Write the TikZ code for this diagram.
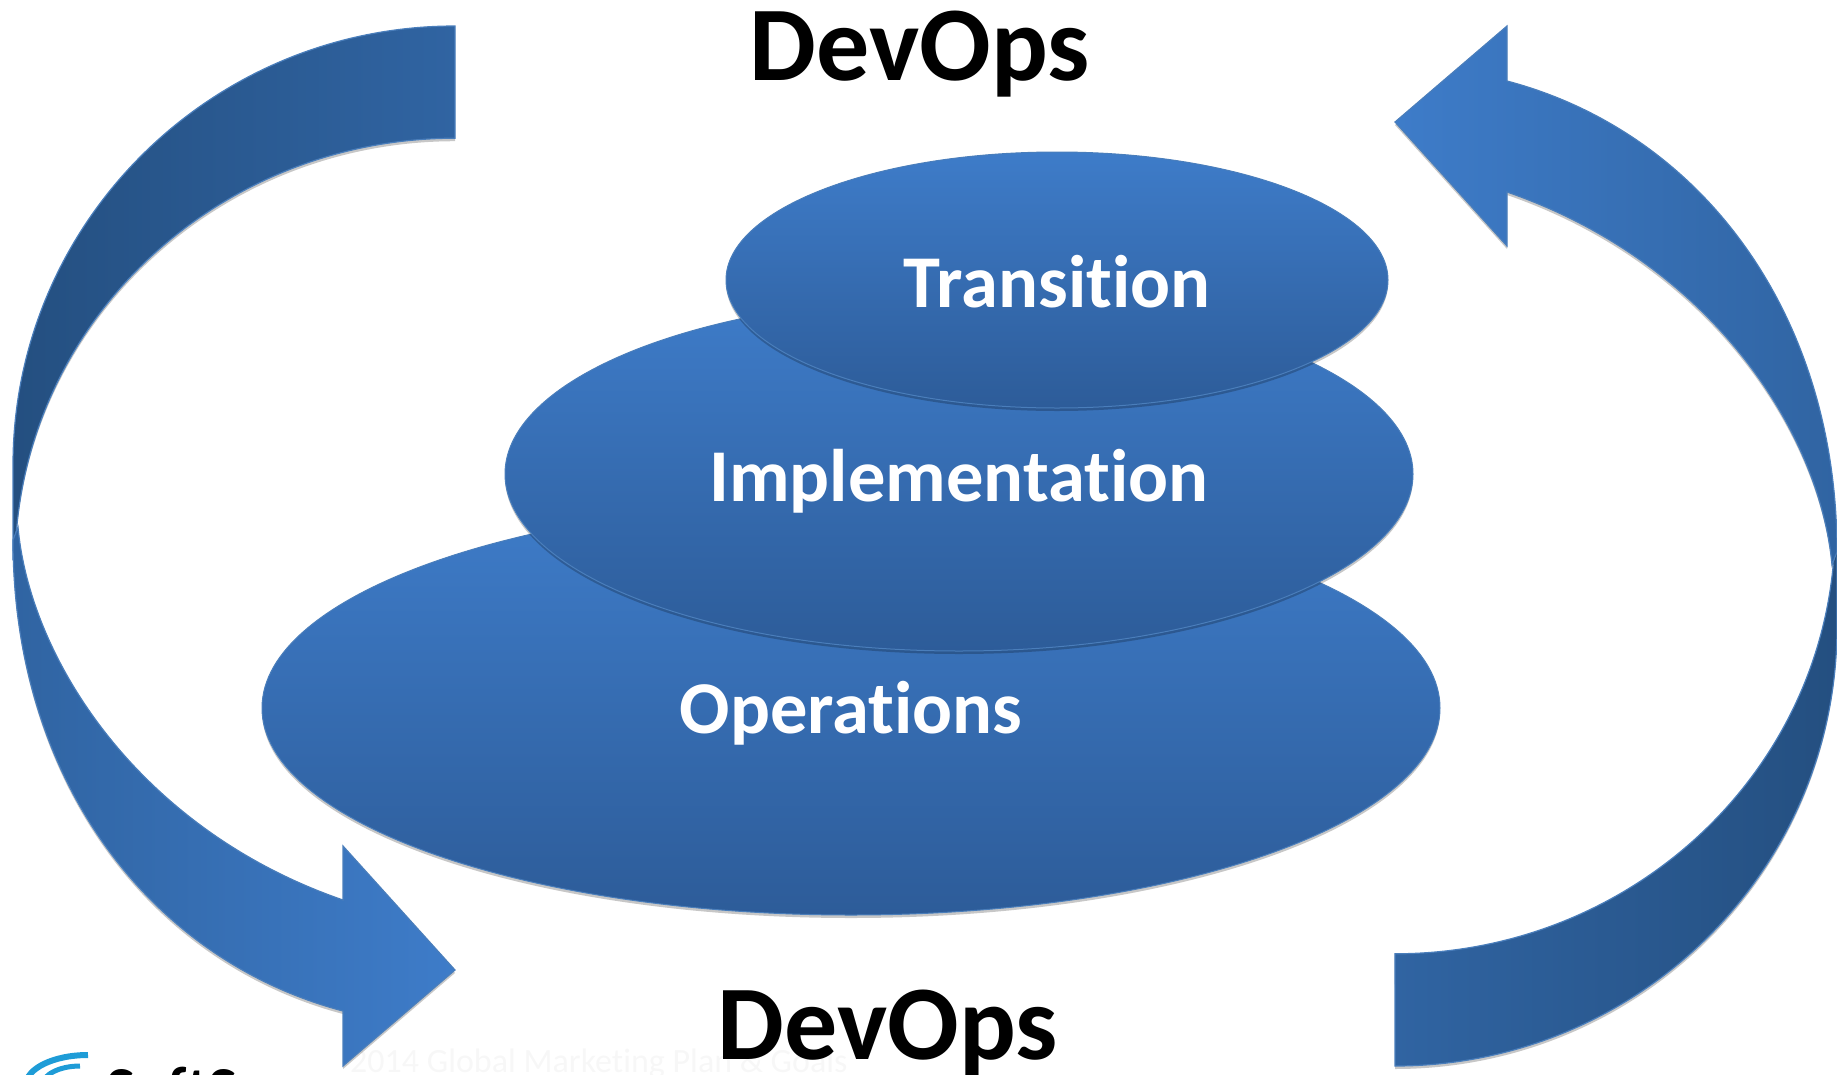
\documentclass[tikz,border=0pt]{standalone}
\usepackage{fontspec}
\setmainfont{Carlito}[Ligatures=NoCommon]
\usetikzlibrary{shapes.geometric,shadows}

\definecolor{lightblue}{HTML}{3E7CC9}
\definecolor{midblue}{HTML}{3064A2}
\definecolor{lowblue}{HTML}{2D5C99}
\definecolor{darkblue}{HTML}{244F80}
\definecolor{edgeblue}{HTML}{4A7EBB}
\definecolor{logoblue}{HTML}{1E9CD7}

\tikzset{
  softshadow/.style={drop shadow={shadow xshift=0pt,shadow yshift=-3pt,opacity=.22,fill=black}},
  disc/.style={ellipse,draw=edgeblue,line width=1pt,inner sep=0pt,top color=lightblue,bottom color=lowblue,
    softshadow,text=white,text height=54pt,text depth=0pt,font=\bfseries\fontsize{74.5}{76}\selectfont},
  band/.style={draw=edgeblue,line width=1.2pt,line join=miter,softshadow},
  title/.style={font=\bfseries\fontsize{106}{106}\selectfont,text=black,inner sep=0pt}
}

\begin{document}
\begin{tikzpicture}[x=1pt,y=-1pt]
\useasboundingbox (0,0) rectangle (1837,1074);
\clip (0,0) rectangle (1837,1074);
% footer, nearly white and under the arrow
\node [anchor=west,inner sep=0pt,text=black!3,font=\fontsize{34}{34}\selectfont] (footer) at (350,1064) {2014 Global Marketing Plan \& Goals};
% left arrow
\draw [band,left color=darkblue,right color=midblue] (455,26) arc[start angle=270,end angle=180,x radius=442,y radius=439] -- (13,560) -- (16.7,528) arc[start angle=185,end angle=270,x radius=440,y radius=427] -- cycle;
\draw [band,left color=midblue,right color=lightblue] (13,540) .. controls (13,780) and (150,960) .. (343,1011) -- (343,1066) -- (455,970) -- (343,846) -- (343,900) .. controls (140,830) and (30,660) .. (18,527) -- cycle;
% right arrow
\draw [band,right color=darkblue,left color=midblue] (1395,1066) arc[start angle=90,end angle=0,x radius=442,y radius=439] -- (1837,532) -- (1833.3,564) arc[start angle=5,end angle=90,x radius=440,y radius=427] -- cycle;
\draw [band,right color=midblue,left color=lightblue] (1837,552) .. controls (1837,312) and (1700,132) .. (1507,81) -- (1507,26) -- (1395,122) -- (1507,246) -- (1507,192) .. controls (1710,262) and (1820,432) .. (1832,565) -- cycle;
% stacked discs
\node [disc,text height=50pt,minimum width=1178pt,minimum height=414pt] (operations) at (851,708) {Operations};
\node [disc,minimum width=908pt,minimum height=354pt] (implementation) at (959,474) {Implementation};
\node [disc,minimum width=662pt,minimum height=256pt] (transition) at (1057,280) {Transition};
% titles
\node [title] (devopstop) at (920,54) {DevOps};
\node [title] (devopsbottom) at (888,1033) {DevOps};
% logo, cut off by the page edge
\draw [logoblue,line width=6pt] (26,1085) arc[start angle=180,end angle=270,x radius=62,y radius=30];
\draw [logoblue,line width=5pt] (42,1086) arc[start angle=180,end angle=270,x radius=38,y radius=20];
\node [anchor=north west,inner sep=0pt,font=\bfseries\fontsize{61}{61}\selectfont] (logotext) at (106,1067) {SoftS};
\end{tikzpicture}
\end{document}
